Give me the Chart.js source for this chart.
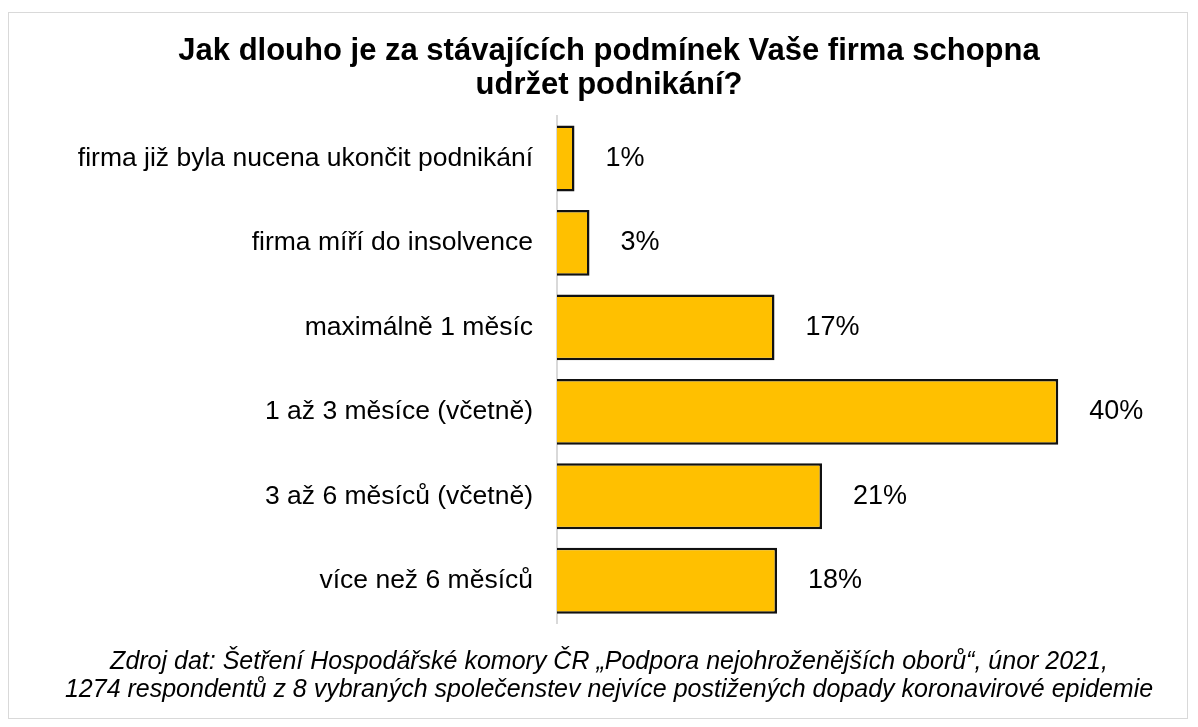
<!DOCTYPE html>
<html lang="cs">
<head>
  <meta charset="UTF-8">
  <title>Jak dlouho je firma schopna udržet podnikání</title>
  <script src="https://cdn.jsdelivr.net/npm/chart.js"></script>
  <style>
    body { margin: 0; background: #fff; }
    .frame {
      position: absolute;
      left: 8px;
      top: 12px;
      width: 1178px;
      height: 705px;
      border: 1px solid #d9d9d9;
    }
    canvas { display: block; }
  </style>
</head>
<body>
  <div class="frame">
    <canvas id="chart" width="1178" height="705"></canvas>
  </div>

  <script>
    const categories = [
      'firma již byla nucena ukončit podnikání',
      'firma míří do insolvence',
      'maximálně 1 měsíc',
      '1 až 3 měsíce (včetně)',
      '3 až 6 měsíců (včetně)',
      'více než 6 měsíců'
    ];
    const values = [1.4, 2.6, 17.4, 40.1, 21.2, 17.6];
    const valueLabels = ['1%', '3%', '17%', '40%', '21%', '18%'];

    const titleLines = [
      'Jak dlouho je za stávajících podmínek Vaše firma schopna',
      'udržet podnikání?'
    ];
    const sourceLines = [
      'Zdroj dat: Šetření Hospodářské komory ČR „Podpora nejohroženějších oborů“, únor 2021,',
      '1274 respondentů z 8 vybraných společenstev nejvíce postižených dopady koronavirové epidemie'
    ];

    const font = 'Arial, "Liberation Sans", sans-serif';

    // popisky hodnot vpravo od sloupců
    const valueLabelPlugin = {
      id: 'valueLabels',
      afterDatasetsDraw(chart) {
        const ctx = chart.ctx;
        const meta = chart.getDatasetMeta(0);
        ctx.save();
        ctx.font = '27px ' + font;
        ctx.fillStyle = '#000';
        ctx.textAlign = 'left';
        ctx.textBaseline = 'middle';
        meta.data.forEach((bar, i) => {
          ctx.fillText(valueLabels[i], bar.x + 31, bar.y);
        });
        ctx.restore();
      }
    };

    new Chart(document.getElementById('chart'), {
      type: 'bar',
      data: {
        labels: categories,
        datasets: [{
          data: values,
          backgroundColor: '#FFC000',
          borderColor: '#111',
          borderWidth: 2.5,
          barPercentage: 0.78,
          categoryPercentage: 1
        }]
      },
      options: {
        indexAxis: 'y',
        responsive: false,
        animation: false,
        devicePixelRatio: 1,
        layout: { padding: { left: 22, right: 0, top: 0, bottom: 0 } },
        plugins: {
          legend: { display: false },
          tooltip: { enabled: false },
          title: {
            display: true,
            text: titleLines,
            color: '#000',
            font: { family: font, size: 31, weight: 'bold', lineHeight: 1.1 },
            padding: { top: 21, bottom: 14 }
          },
          subtitle: {
            display: true,
            position: 'bottom',
            text: sourceLines,
            color: '#000',
            font: { family: font, size: 25, style: 'italic', lineHeight: 1.12 },
            padding: { top: 25, bottom: 14 }
          }
        },
        scales: {
          x: {
            display: false,
            min: 0,
            max: 50.4
          },
          y: {
            grid: { display: false, drawTicks: false },
            border: { display: true, color: '#d9d9d9', width: 2 },
            ticks: {
              color: '#000',
              padding: 24,
              font: { family: font, size: 26.5 }
            },
            afterFit(scale) { scale.width = 526; }
          }
        }
      },
      plugins: [valueLabelPlugin]
    });
  </script>
</body>
</html>
